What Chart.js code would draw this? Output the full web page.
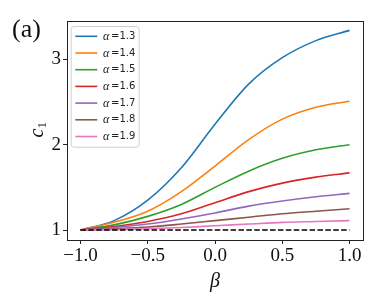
<!DOCTYPE html>
<html>
<head>
<meta charset="utf-8">
<script src="https://cdn.jsdelivr.net/npm/chart.js@4"></script>
<style>
body{margin:0;background:#fff}
#wrap{width:382px;height:308px;position:relative}
</style>
</head>
<body>
<div id="wrap"><canvas id="chart" width="382" height="308"></canvas></div>
<script>
// values
let beta=[-1,-0.75,-0.5,-0.25,0,0.25,0.5,0.75,1]
let c13=[1.0,1.11,1.35,1.73,2.24,2.71,3.02,3.22,3.34]
let c14=[1.0,1.09,1.22,1.45,1.75,2.06,2.30,2.44,2.51]
let c15=[1.0,1.06,1.16,1.30,1.50,1.69,1.84,1.94,2.00]
let c16=[1.0,1.04,1.10,1.19,1.32,1.45,1.55,1.62,1.67]
let c17=[1.0,1.03,1.07,1.13,1.20,1.28,1.34,1.39,1.43]
let c18=[1.0,1.015,1.035,1.07,1.11,1.15,1.19,1.22,1.25]
let c19=[1.0,1.005,1.015,1.03,1.05,1.07,1.09,1.10,1.11]
let alphas=["1.3","1.4","1.5","1.6","1.7","1.8","1.9"]
let series=[c13,c14,c15,c16,c17,c18,c19]
let colors=["#1f77b4","#ff7f0e","#2ca02c","#d62728","#9467bd","#8c564b","#e377c2"]
let refX=[-1,1]
let refY=[1,1]
let xTicks=[-1,-0.5,0,0.5,1]
let yTicks=[1,2,3]

let datasets=series.map((s,i)=>({
    label:"α ="+alphas[i],
    data:beta.map((b,j)=>({x:b,y:s[j]})),
    borderColor:colors[i],
    borderWidth:1.6,
    pointRadius:0,
    fill:false,
    cubicInterpolationMode:"monotone",
    order:10-i
}))
datasets.push({
    label:"ref",
    data:refX.map((x,j)=>({x:x,y:refY[j]})),
    borderColor:"#000",
    borderWidth:1.5,
    borderDash:[5.5,2.4],
    pointRadius:0,
    fill:false,
    order:0
})

// frame, legend box and labels drawn like the original figure
let extras={
    id:"extras",
    afterDraw(chart){
        let ctx=chart.ctx
        let a=chart.chartArea
        ctx.save()
        ctx.strokeStyle="#222"
        ctx.lineWidth=1
        ctx.strokeRect(Math.round(a.left)+0.5,Math.round(a.top)+0.5,Math.round(a.right-a.left),Math.round(a.bottom-a.top))

        // legend
        let lx=a.left+3.7, ly=a.top+5, lw=68, lh=120.7
        ctx.beginPath()
        ctx.roundRect(lx+0.5,ly+0.5,lw,lh,3)
        ctx.fillStyle="rgba(255,255,255,0.8)"
        ctx.fill()
        ctx.strokeStyle="#d0d0d0"
        ctx.lineWidth=1
        ctx.stroke()
        ctx.textBaseline="middle"
        alphas.forEach((al,i)=>{
            let y=a.top+15.3+i*16.7
            ctx.strokeStyle=colors[i]
            ctx.lineWidth=1.6
            ctx.beginPath()
            ctx.moveTo(a.left+8.3,y)
            ctx.lineTo(a.left+30.3,y)
            ctx.stroke()
            ctx.fillStyle="#222"
            ctx.font="italic 12px 'Liberation Serif'"
            ctx.fillText("α",a.left+36,y+0.5)
            ctx.font="10px 'DejaVu Sans'"
            ctx.fillText("=",a.left+44,y)
            ctx.fillText(al,a.left+52.5,y)
        })

        ctx.fillStyle="#111"
        ctx.textBaseline="alphabetic"
        ctx.font="26px 'Liberation Serif'"
        ctx.fillText("(a)",12,37)

        ctx.textAlign="center"
        ctx.font="italic 20px 'Liberation Serif'"
        ctx.fillText("β",(a.left+a.right)/2,287)

        ctx.translate(43,(a.top+a.bottom)/2)
        ctx.rotate(-Math.PI/2)
        ctx.textAlign="left"
        ctx.font="italic 20px 'Liberation Serif'"
        ctx.fillText("c",-7,0)
        ctx.font="13px 'Liberation Serif'"
        ctx.fillText("1",2,3)
        ctx.restore()
    }
}

new Chart(document.getElementById("chart"),{
    type:"line",
    data:{datasets:datasets},
    options:{
        responsive:false,
        animation:false,
        layout:{padding:{top:21,right:19,left:0,bottom:0}},
        plugins:{legend:{display:false},tooltip:{enabled:false}},
        scales:{
            x:{
                type:"linear",
                min:-1.1,
                max:1.1,
                afterBuildTicks:s=>{s.ticks=xTicks.map(v=>({value:v}))},
                afterFit:s=>{s.height=68},
                border:{display:false},
                grid:{drawOnChartArea:false,drawTicks:true,tickLength:4,tickColor:"#222"},
                ticks:{
                    padding:1,
                    color:"#111",
                    font:{family:"Liberation Serif",size:19},
                    maxRotation:0,
                    callback:v=>(v<0?"−":"")+Math.abs(v).toFixed(1)
                }
            },
            y:{
                type:"linear",
                min:0.883,
                max:3.45,
                afterBuildTicks:s=>{s.ticks=yTicks.map(v=>({value:v}))},
                afterFit:s=>{s.width=67},
                border:{display:false},
                grid:{drawOnChartArea:false,drawTicks:true,tickLength:4,tickColor:"#222"},
                ticks:{
                    padding:2,
                    color:"#111",
                    font:{family:"Liberation Serif",size:19},
                    callback:v=>String(v)
                }
            }
        }
    },
    plugins:[extras]
})
</script>
</body>
</html>
